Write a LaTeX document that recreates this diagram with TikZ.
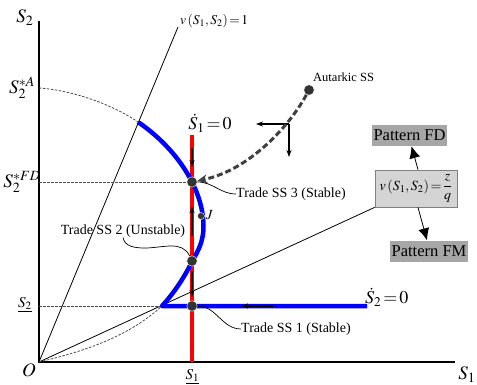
\documentclass[tikz,border=0pt]{standalone}
\usepackage{mathptmx}
\usepackage{fontspec}
\setmainfont{Liberation Serif}
\usetikzlibrary{arrows.meta}
\definecolor{boxgray}{HTML}{D4D4D4}
\definecolor{boxedge}{HTML}{808080}
\definecolor{patgray}{HTML}{A6A6A6}
\definecolor{dotgray}{HTML}{333333}
\newcommand{\tighteq}{\mkern-2mu=\mkern-2mu}
\begin{document}
\begin{tikzpicture}[x=1pt,y=-1pt,
  biglbl/.style={inner sep=0pt,font=\fontsize{19}{21}\selectfont},
  loclbl/.style={inner sep=0pt,font=\fontsize{18}{20}\selectfont},
  midlbl/.style={inner sep=0pt,font=\fontsize{14}{16}\selectfont},
  ulbl/.style={inner sep=0pt,font=\fontsize{15}{17}\selectfont},
  smalllbl/.style={inner sep=0pt,font=\fontsize{12.5}{14}\selectfont},
  ssdot/.style={circle,fill=dotgray,draw=white,line width=0.4pt,minimum size=10.5pt,inner sep=0pt},
  jdot/.style={circle,fill=dotgray,draw=white,line width=0.4pt,minimum size=7pt,inner sep=0pt},
  arr/.style={-{Stealth[length=7pt,width=5pt]},line width=1.1pt},
  bigarr/.style={-{Latex[length=12pt,width=11pt]},line width=0.8pt},
  conn/.style={line width=0.7pt},
  thinline/.style={line width=0.8pt},
  dashline/.style={black!70,line width=0.8pt,dash pattern=on 2.5pt off 1.5pt},
  gdash/.style={black!75,line width=3pt,dash pattern=on 6pt off 3pt,-{Stealth[length=10pt,width=9pt]}},
  boxst/.style={draw=boxedge,fill=boxgray,line width=0.8pt,minimum width=82pt,minimum height=37pt,inner sep=1pt,font=\fontsize{14}{16}\selectfont},
  patst/.style={fill=patgray,inner sep=1pt,minimum height=21pt,font=\fontsize{16.5}{18}\selectfont}
]
\useasboundingbox (0,0) rectangle (477,385);

% axes
\coordinate (O) at (39,362);
\coordinate (Ytop) at (39,21);
\coordinate (Xend) at (455,362);
\draw[line width=1.1pt] (Ytop) -- (O) -- (Xend);
\node[biglbl] (lS2) at (25,18) {$S_2$};
\node[biglbl] (lS1) at (467,375) {$S_1$};
\node[biglbl] (lO) at (29,370) {$O$};

% ray v=1
\coordinate (vtop) at (178,27);
\draw[thinline] (O) -- (vtop);
\node[smalllbl,anchor=west,font=\fontsize{13.5}{15}\selectfont] (vone) at (180,21) {$v\left(S_1,S_2\right)\tighteq 1$};

% box and patterns
\node[boxst] (vz) at (416,188.5) {$v\left(S_1,S_2\right)\tighteq{\displaystyle\frac{z}{q}}$};
\draw[thinline] (O) -- (vz.south west);
\node[patst,minimum width=75pt] (pfd) at (409.5,135.5) {Pattern FD};
\node[patst,minimum width=78pt] (pfm) at (429,251) {Pattern FM};
\draw[bigarr] ([xshift=2pt]vz.north) -- ([xshift=2pt]pfd.south);
\draw[bigarr] ([xshift=2pt]vz.south) -- ([xshift=-2pt]pfm.north);

% key coordinates
\coordinate (A) at (39,88);
\coordinate (vA) at (138,122);
\coordinate (corner) at (162,306);
\coordinate (bend) at (367,306);
\coordinate (yFD) at (39,182);
\coordinate (yS2) at (39,306);
\coordinate (rtop) at (192,135);
\coordinate (rbot) at (192,362);

% dashed guides
\draw[dashline] (A) .. controls (70,90) and (110,103) .. (vA);
\draw[dashline] (yFD) -- (192,182);
\draw[dashline] (yS2) -- (corner);
\draw[dashline] (O) .. controls (90,350) and (130,335) .. (corner);

% S1dot = 0 (red)
\draw[red,line width=4.5pt] (rtop) -- (rbot);
% S2dot = 0 (blue)
\draw[blue,line width=4.5pt,line join=round]
  (vA) .. controls (160,137) and (180,158) .. (192,182)
  .. controls (198,194) and (203,208) .. (203.5,225)
  .. controls (204,240) and (198,252) .. (192,261)
  .. controls (186,275) and (174,293) .. (corner) -- (bend);

% labels of loci
\node[loclbl] (s1dot) at (210,123) {$\dot S_1\tighteq 0$};
\node[loclbl,anchor=west] (s2dot) at (365,297) {$\dot S_2\tighteq 0$};
\node[biglbl] (lA) at (22,88) {$S_2^{*A}$};
\node[biglbl] (lFD) at (22,182) {$S_2^{*FD}$};
\node[ulbl] (lS2u) at (25,305) {$\underline{S_2}$};
\node[ulbl] (lS1u) at (192.5,377) {$\underline{S_1}$};

% arrows on red line
\coordinate (a1s) at (192,148); \coordinate (a1e) at (192,167);
\coordinate (a2s) at (192,236); \coordinate (a2e) at (192,206);
\coordinate (a3s) at (192,271); \coordinate (a3e) at (192,297);
\draw[arr] (a1s) -- (a1e);
\draw[arr] (a2s) -- (a2e);
\draw[arr] (a3s) -- (a3e);
% arrow on blue line
\coordinate (a4s) at (273,306); \coordinate (a4e) at (241,306);
\draw[arr] (a4s) -- (a4e);

% direction arrows
\coordinate (dc) at (289,124);
\coordinate (dl) at (256,124);
\coordinate (dd) at (289,157);
\draw[arr] (dc) -- (dl);
\draw[arr] (dc) -- (dd);

% steady states
\node[ssdot] (ss3) at (192,182) {};
\node[ssdot] (ss2) at (192,261) {};
\node[ssdot] (ss1) at (192,306) {};
\node[jdot] (jj) at (201,216) {};
\node[smalllbl,anchor=west,font=\fontsize{14}{15}\selectfont] (jl) at (206,215) {$J$};
\node[ssdot] (aut) at (309,90) {};
\node[smalllbl,anchor=west] (autl) at (313,77) {Autarkic SS};

% autarkic path
\draw[gdash] (aut) .. controls (290,125) and (250,170) .. (ss3);

% SS labels
\node[midlbl,anchor=west] (tss3) at (236,194) {Trade SS 3 (Stable)};
\node[midlbl] (tss2) at (123,231) {Trade SS 2 (Unstable)};
\node[midlbl,anchor=west] (tss1) at (241,329) {Trade SS 1 (Stable)};
\coordinate (c2) at (145,248);
\draw[conn] (ss3.east) to[out=0,in=180] (tss3.west);
\draw[conn] (ss1.east) to[out=0,in=180] (tss1.west);
\draw[conn] (tss2.south) to[out=-80,in=180] (c2) to[out=0,in=115] (ss2);
\end{tikzpicture}
\end{document}
